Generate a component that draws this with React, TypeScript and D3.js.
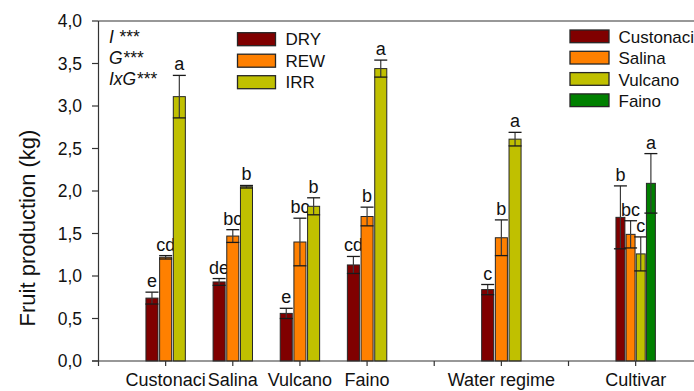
import React from "react";
import * as d3 from "d3";

// Site × water regime means (kg) with standard errors and Tukey letters
const sites = ["Custonaci", "Salina", "Vulcano", "Faino"];
const regimes = ["DRY", "REW", "IRR"];
const dryMean = [0.74, 0.93, 0.56, 1.13];
const dryErr = [0.07, 0.04, 0.06, 0.1];
const dryLetters = ["e", "de", "e", "cd"];
const rewMean = [1.22, 1.47, 1.4, 1.7];
const rewErr = [0.02, 0.075, 0.28, 0.11];
const rewLetters = ["cd", "bc", "bc", "b"];
const irrMean = [3.11, 2.05, 1.82, 3.44];
const irrErr = [0.25, 0.015, 0.1, 0.1];
const irrLetters = ["a", "b", "b", "a"];

// Main effect of water regime
const regimeMean = [0.84, 1.45, 2.61];
const regimeErr = [0.06, 0.21, 0.08];
const regimeLetters = ["c", "b", "a"];

// Main effect of cultivar
const cultivarMean = [1.69, 1.49, 1.26, 2.09];
const cultivarErr = [0.37, 0.16, 0.2, 0.35];
const cultivarLetters = ["b", "bc", "c", "a"];

// Axis categories (slots 1..8); empty strings are spacer ticks
const xTickLabels = ["Custonaci", "Salina", "Vulcano", "Faino", "", "Water regime", "", "Cultivar"];
const yTicks = [0, 0.5, 1, 1.5, 2, 2.5, 3, 3.5, 4];
const statLines = [
  { term: "I", stars: " ***" },
  { term: "G", stars: "***" },
  { term: "IxG", stars: "***" },
];

const regimeColors = ["#800000", "#ff8000", "#c0c000"];
const cultivarColors = ["#800000", "#ff8000", "#c0c000", "#008000"];

const W = 694;
const H = 391;
const FONT = "'Liberation Sans', Arial, sans-serif";

type Bar = { slot: number; key: string; keys: string[]; mean: number; err: number; letter: string; color: string };

export default function App() {
  const x = d3.scaleLinear().domain([0, 9]).range([98.5, 702.8]);
  const y = d3.scaleLinear().domain([0, 4]).range([361, 21]);
  const fmt = d3.formatLocale({ decimal: ",", thousands: ".", grouping: [3], currency: ["", "€"] }).format(".1f");

  const bars: Bar[] = [];
  sites.forEach((s, i) => {
    const means = [dryMean[i], rewMean[i], irrMean[i]];
    const errs = [dryErr[i], rewErr[i], irrErr[i]];
    const lets = [dryLetters[i], rewLetters[i], irrLetters[i]];
    regimes.forEach((r, j) =>
      bars.push({ slot: i + 1, key: r, keys: regimes, mean: means[j], err: errs[j], letter: lets[j], color: regimeColors[j] })
    );
  });
  regimes.forEach((r, j) =>
    bars.push({ slot: 6, key: r, keys: regimes, mean: regimeMean[j], err: regimeErr[j], letter: regimeLetters[j], color: regimeColors[j] })
  );
  sites.forEach((s, j) =>
    bars.push({ slot: 8, key: s, keys: sites, mean: cultivarMean[j], err: cultivarErr[j], letter: cultivarLetters[j], color: cultivarColors[j] })
  );

  const inner = (keys: string[]) => d3.scaleBand<string>().domain(keys).range([-19.7, 19.7]).paddingInner(0.12);
  const capHalf = 6.5;

  return (
    <div style={{ position: "absolute", left: 0, top: 0 }}>
      <svg width={W} height={H} style={{ display: "block", fontFamily: FONT }}>
        <rect x={0} y={0} width={W} height={H} fill="#fff" />

        {/* bars with error bars and significance letters */}
        {bars.map((b, k) => {
          const band = inner(b.keys);
          const x0 = x(b.slot) + (band(b.key) as number);
          const bw = band.bandwidth();
          const cx = x0 + bw / 2;
          const yHi = y(b.mean + b.err);
          const yLo = y(b.mean - b.err);
          return (
            <g key={k}>
              <rect x={x0} y={y(b.mean)} width={bw} height={y(0) - y(b.mean)} fill={b.color} stroke="#262626" strokeWidth={1} />
              <line x1={cx} x2={cx} y1={yHi} y2={yLo} stroke="#3a3a3a" strokeWidth={1.2} />
              <line x1={cx - capHalf} x2={cx + capHalf} y1={yHi} y2={yHi} stroke="#1a1a1a" strokeWidth={1.3} />
              <line x1={cx - capHalf} x2={cx + capHalf} y1={yLo} y2={yLo} stroke="#1a1a1a" strokeWidth={1.3} />
              <text x={cx} y={yHi - 5} textAnchor="middle" fontSize={18} fill="#111">
                {b.letter}
              </text>
            </g>
          );
        })}

        {/* frame and axes */}
        <line x1={98.5} x2={W} y1={21} y2={21} stroke="#333" strokeWidth={1.2} />
        <line x1={98.5} x2={98.5} y1={21} y2={366} stroke="#333" strokeWidth={1.2} />
        <line x1={92} x2={W} y1={361} y2={361} stroke="#333" strokeWidth={1.2} />
        {yTicks.map((t) => (
          <g key={t}>
            <line x1={92} x2={98.5} y1={y(t)} y2={y(t)} stroke="#333" strokeWidth={1.2} />
            <text x={82} y={y(t)} dy="0.36em" textAnchor="end" fontSize={17.5} fill="#111">
              {fmt(t)}
            </text>
          </g>
        ))}
        {xTickLabels.map((lab, i) => (
          <g key={i}>
            <line x1={x(i + 1)} x2={x(i + 1)} y1={361} y2={366} stroke="#333" strokeWidth={1.2} />
            {lab && (
              <text x={x(i + 1)} y={386} textAnchor="middle" fontSize={18} fill="#111">
                {lab}
              </text>
            )}
          </g>
        ))}

        <text transform="translate(35,228) rotate(-90)" textAnchor="middle" fontSize={22} fill="#111">
          Fruit production (kg)
        </text>

        {/* ANOVA significance */}
        {statLines.map((s, i) => (
          <text key={i} x={109} y={43 + i * 21} fontSize={17.5} fill="#111" fontStyle="italic">
            {s.term}
            <tspan>{s.stars}</tspan>
          </text>
        ))}

        {/* water regime legend */}
        {regimes.map((r, i) => (
          <g key={r} transform={`translate(237.5,${32.7 + i * 21.5})`}>
            <rect width={38} height={13} fill={regimeColors[i]} stroke="#262626" strokeWidth={1.3} />
            <text x={48} y={12.5} fontSize={17} fill="#111">
              {r}
            </text>
          </g>
        ))}

        {/* cultivar legend */}
        {sites.map((s, i) => (
          <g key={s} transform={`translate(570,${30 + i * 21.3})`}>
            <rect width={39} height={12.7} fill={cultivarColors[i]} stroke="#262626" strokeWidth={1.3} />
            <text x={48.5} y={13} fontSize={17} fill="#111">
              {s}
            </text>
          </g>
        ))}
      </svg>
    </div>
  );
}
